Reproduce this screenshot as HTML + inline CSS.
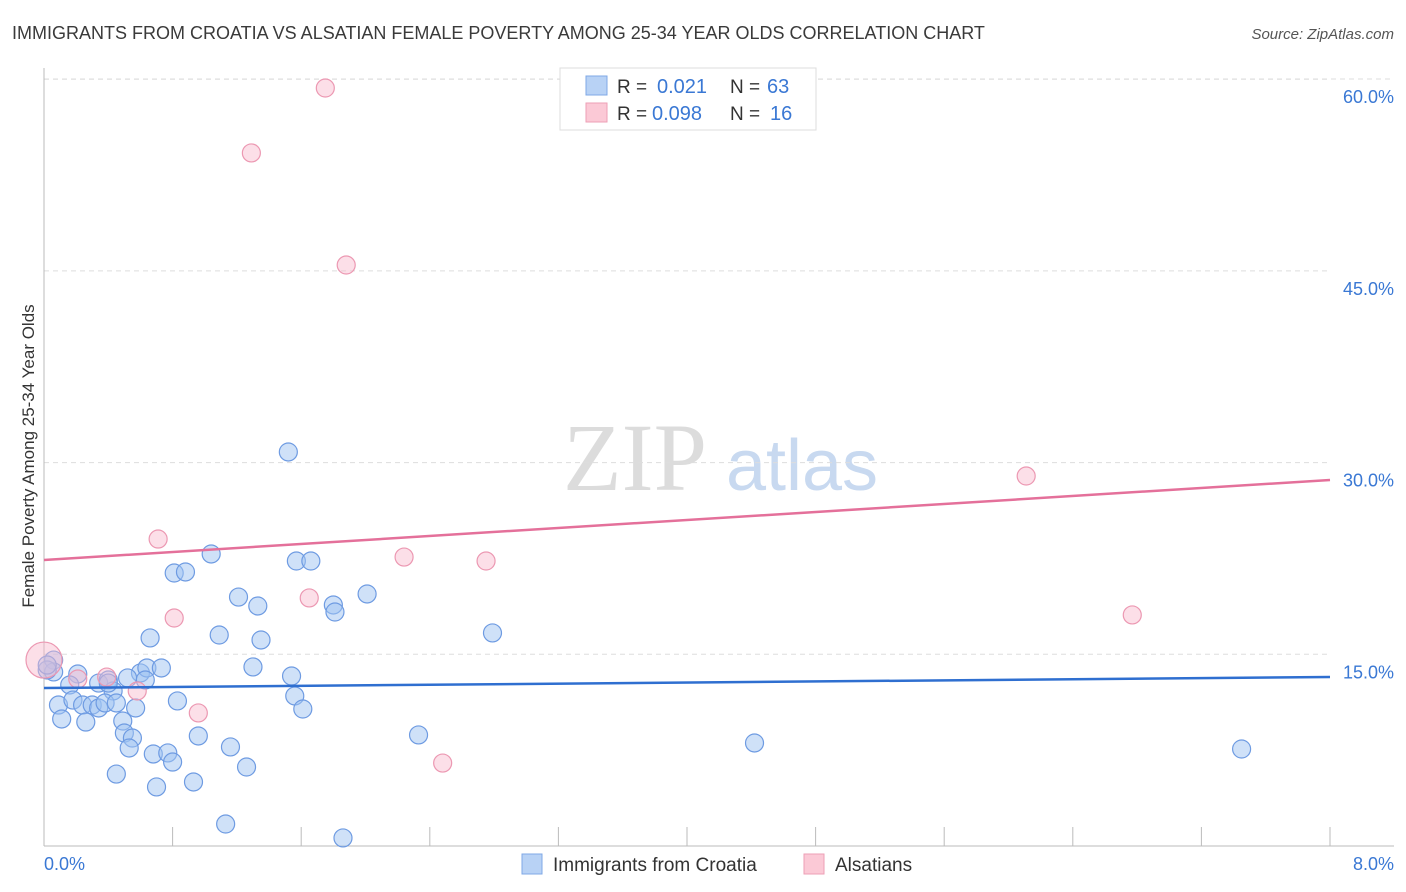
<!DOCTYPE html>
<html><head><meta charset="utf-8">
<style>
body{margin:0;background:#fff;font-family:"Liberation Sans",sans-serif;}
svg{display:block}
</style></head>
<body>
<svg id="chart" width="1406" height="892" xmlns="http://www.w3.org/2000/svg" font-family="Liberation Sans, sans-serif">
<text x="12" y="39" font-size="18" fill="#3a3a3a">IMMIGRANTS FROM CROATIA VS ALSATIAN FEMALE POVERTY AMONG 25-34 YEAR OLDS CORRELATION CHART</text>
<text x="1394" y="39" font-size="15" fill="#555" text-anchor="end" font-style="italic">Source: ZipAtlas.com</text>
<text transform="translate(34,456) rotate(-90)" font-size="17" fill="#333" text-anchor="middle">Female Poverty Among 25-34 Year Olds</text>
<g>
<text x="635" y="490" font-size="96" fill="#dcdcdc" text-anchor="middle" font-family="Liberation Serif, serif">ZIP</text>
<text x="802" y="490" font-size="72" fill="#c8d9f0" text-anchor="middle">atlas</text>
</g>
<g id="grid"></g>
<g id="axes"></g>
<g id="points"></g>
<g id="trends"></g>
<g>
<rect x="560" y="68" width="256" height="62" fill="#fff" stroke="#ddd"/>
<rect x="586" y="76" width="21" height="19" fill="#b8d2f5" stroke="#7fa8e6"/>
<rect x="586" y="103" width="21" height="19" fill="#fbc9d6" stroke="#ee9fb6"/>
<text x="617" y="93" font-size="19" fill="#333">R = </text><text x="657" y="93" font-size="20" fill="#3a78d4">0.021</text>
<text x="730" y="93" font-size="19" fill="#333">N = </text><text x="767" y="93" font-size="20" fill="#3a78d4">63</text>
<text x="617" y="120" font-size="19" fill="#333">R = </text><text x="652" y="120" font-size="20" fill="#3a78d4">0.098</text>
<text x="730" y="120" font-size="19" fill="#333">N = </text><text x="770" y="120" font-size="20" fill="#3a78d4">16</text>
</g>
<g>
<rect x="522" y="854" width="20" height="20" fill="#b8d2f5" stroke="#7fa8e6"/>
<text x="553" y="871" font-size="19" fill="#333">Immigrants from Croatia</text>
<rect x="804" y="854" width="20" height="20" fill="#fbc9d6" stroke="#ee9fb6"/>
<text x="835" y="871" font-size="19" fill="#333">Alsatians</text>
</g>
</svg>
<script>
const xTicks=[0,0.8,1.6,2.4,3.2,4.0,4.8,5.6,6.4,7.2,8.0];
const yTicks=[15,30,45,60];
const yTickLabels=["15.0%","30.0%","45.0%","60.0%"];
const xEndLabels=["0.0%","8.0%"];
const croatiaX=[0.66,1.09,1.35,0.06,0.06,0.21,0.16,0.34,0.40,0.43,0.60,0.64,0.73,0.63,1.30,1.54,1.56,1.61,0.09,0.11,0.18,0.24,0.30,0.34,0.38,0.45,0.26,0.57,0.83,0.49,0.50,0.55,0.53,0.68,0.77,0.80,0.96,1.16,1.26,0.45,0.70,0.93,1.13,1.52,1.04,0.81,0.88,1.57,1.66,1.21,1.33,2.01,1.80,1.81,2.79,2.33,4.42,7.45,1.86,0.02,0.40,0.52,0.02];
const croatiaY=[16.28,16.51,16.12,14.55,13.62,13.46,12.60,12.75,12.99,12.13,13.54,13.93,13.93,12.99,14.01,13.30,11.74,10.72,11.03,9.94,11.42,11.03,11.03,10.80,11.19,11.19,9.70,10.80,11.35,9.78,8.84,8.45,7.67,7.20,7.28,6.57,8.61,7.75,6.18,5.63,4.62,5.01,1.72,30.83,22.85,21.36,21.44,22.30,22.30,19.48,18.78,19.72,18.86,18.31,16.67,8.69,8.06,7.59,0.63,13.77,12.75,13.15,14.16];
const alsatianX=[1.75,1.29,1.88,0.71,0.81,1.65,2.24,2.75,6.11,6.77,0.0,0.39,0.21,0.58,0.96,2.48];
const alsatianY=[59.31,54.23,45.46,24.02,17.84,19.41,22.61,22.30,28.95,18.08,14.55,13.22,13.07,12.13,10.41,6.49];
const alsatianR=[9,9,9,9,9,9,9,9,9,9,18,9,9,9,9,9];
const croatiaTrend=[12.36,13.22];
const alsatianTrend=[22.38,28.64];

const NS="http://www.w3.org/2000/svg";
const X0=44,X1=1330,Y0=846,PXY=12.78;
const sx=v=>X0+(X1-X0)*v/8;
const sy=v=>Y0-v*PXY;
function mk(tag,attrs,parent){const e=document.createElementNS(NS,tag);for(const k in attrs)e.setAttribute(k,attrs[k]);parent.appendChild(e);return e;}
const grid=document.getElementById('grid'),axes=document.getElementById('axes'),pts=document.getElementById('points'),tr=document.getElementById('trends');
mk('line',{x1:X0,x2:1394,y1:79,y2:79,stroke:'#ddd','stroke-dasharray':'5,4'},grid);
yTicks.forEach((v,i)=>{
 const l=mk('line',{x1:X0,x2:X1,y1:sy(v),y2:sy(v),stroke:'#ddd','stroke-dasharray':'5,4'},grid);
 
 
 const t=mk('text',{x:1394,y:sy(v)+24,'font-size':18,fill:'#3a78d4','text-anchor':'end'},axes);
 t.textContent=yTickLabels[i];
 
 
});
mk('line',{x1:X0,x2:X0,y1:68,y2:Y0,stroke:'#bbb'},axes);
mk('line',{x1:X0,x2:1394,y1:Y0,y2:Y0,stroke:'#bbb'},axes);
xTicks.forEach(v=>{
 const t=mk('line',{x1:sx(v),x2:sx(v),y1:827,y2:Y0,stroke:'#bbb'},axes);
 
 
});
const xl0=mk('text',{x:44,y:870,'font-size':18,fill:'#3a78d4'},axes);xl0.textContent=xEndLabels[0];


const xl1=mk('text',{x:1394,y:870,'font-size':18,fill:'#3a78d4','text-anchor':'end'},axes);xl1.textContent=xEndLabels[1];


croatiaX.forEach((v,i)=>{
 const c=mk('circle',{cx:sx(v),cy:sy(croatiaY[i]),r:9,fill:'rgba(160,195,242,0.5)',stroke:'#6e9be2','stroke-width':1.2},pts);
 
 
});
alsatianX.forEach((v,i)=>{
 const c=mk('circle',{cx:sx(v),cy:sy(alsatianY[i]),r:alsatianR[i],fill:'rgba(248,185,205,0.45)',stroke:'#ec98b2','stroke-width':1.2},pts);
 
 
});
const t1=mk('line',{x1:sx(0),x2:sx(8),y1:sy(croatiaTrend[0]),y2:sy(croatiaTrend[1]),stroke:'#2f6fd0','stroke-width':2.5},tr);


const t2=mk('line',{x1:sx(0),x2:sx(8),y1:sy(alsatianTrend[0]),y2:sy(alsatianTrend[1]),stroke:'#e4709a','stroke-width':2.5},tr);


</script>
</body></html>
